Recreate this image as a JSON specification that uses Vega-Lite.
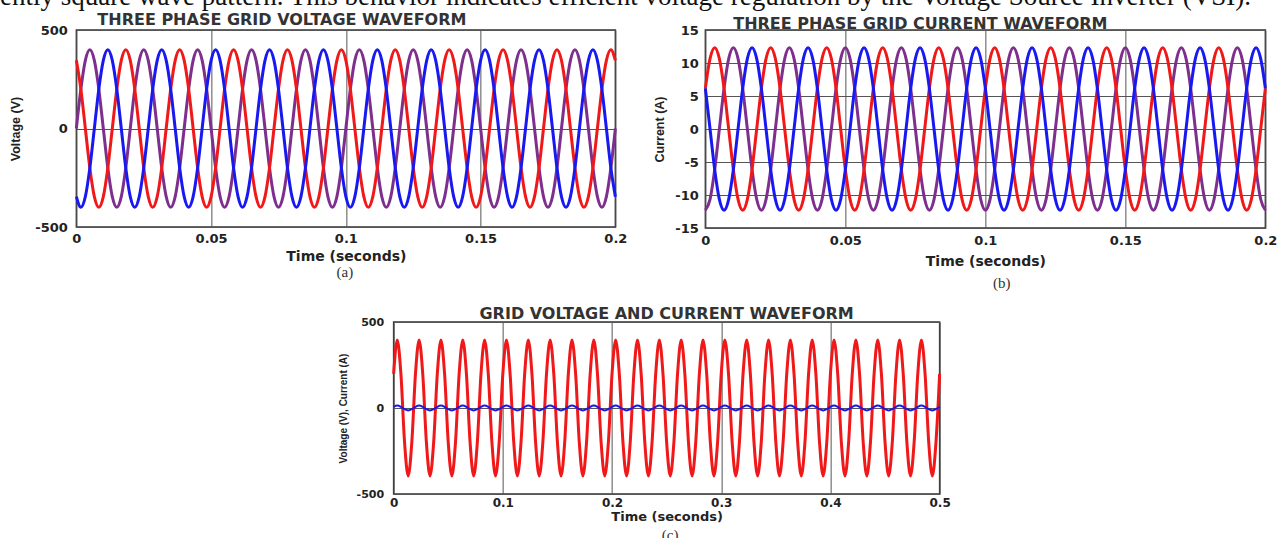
{
"$schema": "https://vega.github.io/schema/vega-lite/v6.json",
"background": "white",
"padding": {"left": 0, "top": -17, "right": 0, "bottom": 0},
"title": {"text": "ently square wave pattern. This behavior indicates efficient voltage regulation by the Voltage Source Inverter (VSI).", "anchor": "start", "font": "Liberation Serif", "fontSize": 27, "fontWeight": "normal", "color": "#111", "baseline": "alphabetic", "offset": -21, "dx": -9},
"config": {
  "view": {"stroke": "#333", "strokeWidth": 1.5},
  "axis": {"domain": false, "ticks": false, "labelFlush": false, "labelOverlap": false, "labelFont": "DejaVu Sans", "labelFontWeight": "bold", "labelFontSize": 13, "labelColor": "#222", "titleFont": "DejaVu Sans", "titleFontWeight": "bold", "titleColor": "#222", "gridColor": "#555", "gridOpacity": 1, "gridWidth": 1},
  "title": {"font": "DejaVu Sans", "fontWeight": "bold", "fontSize": 16, "color": "#333"}
},
"datasets": {
"ab": [
{"t":0,"vr":346,"vb":-346,"vp":0,"ir":6.15,"ip":-12.3,"ib":6.15},
{"t":0.00167,"vr":200,"vb":-400,"vp":200,"ir":10.65,"ip":-10.65,"ib":0},
{"t":0.00333,"vr":0,"vb":-346,"vp":346,"ir":12.3,"ip":-6.15,"ib":-6.15},
{"t":0.005,"vr":-200,"vb":-200,"vp":400,"ir":10.65,"ip":0,"ib":-10.65},
{"t":0.00667,"vr":-346,"vb":0,"vp":346,"ir":6.15,"ip":6.15,"ib":-12.3},
{"t":0.00833,"vr":-400,"vb":200,"vp":200,"ir":0,"ip":10.65,"ib":-10.65},
{"t":0.01,"vr":-346,"vb":346,"vp":0,"ir":-6.15,"ip":12.3,"ib":-6.15},
{"t":0.01167,"vr":-200,"vb":400,"vp":-200,"ir":-10.65,"ip":10.65,"ib":0},
{"t":0.01333,"vr":0,"vb":346,"vp":-346,"ir":-12.3,"ip":6.15,"ib":6.15},
{"t":0.015,"vr":200,"vb":200,"vp":-400,"ir":-10.65,"ip":0,"ib":10.65},
{"t":0.01667,"vr":346,"vb":0,"vp":-346,"ir":-6.15,"ip":-6.15,"ib":12.3},
{"t":0.01833,"vr":400,"vb":-200,"vp":-200,"ir":0,"ip":-10.65,"ib":10.65},
{"t":0.02,"vr":346,"vb":-346,"vp":0,"ir":6.15,"ip":-12.3,"ib":6.15},
{"t":0.02167,"vr":200,"vb":-400,"vp":200,"ir":10.65,"ip":-10.65,"ib":0},
{"t":0.02333,"vr":0,"vb":-346,"vp":346,"ir":12.3,"ip":-6.15,"ib":-6.15},
{"t":0.025,"vr":-200,"vb":-200,"vp":400,"ir":10.65,"ip":0,"ib":-10.65},
{"t":0.02667,"vr":-346,"vb":0,"vp":346,"ir":6.15,"ip":6.15,"ib":-12.3},
{"t":0.02833,"vr":-400,"vb":200,"vp":200,"ir":0,"ip":10.65,"ib":-10.65},
{"t":0.03,"vr":-346,"vb":346,"vp":0,"ir":-6.15,"ip":12.3,"ib":-6.15},
{"t":0.03167,"vr":-200,"vb":400,"vp":-200,"ir":-10.65,"ip":10.65,"ib":0},
{"t":0.03333,"vr":0,"vb":346,"vp":-346,"ir":-12.3,"ip":6.15,"ib":6.15},
{"t":0.035,"vr":200,"vb":200,"vp":-400,"ir":-10.65,"ip":0,"ib":10.65},
{"t":0.03667,"vr":346,"vb":0,"vp":-346,"ir":-6.15,"ip":-6.15,"ib":12.3},
{"t":0.03833,"vr":400,"vb":-200,"vp":-200,"ir":0,"ip":-10.65,"ib":10.65},
{"t":0.04,"vr":346,"vb":-346,"vp":0,"ir":6.15,"ip":-12.3,"ib":6.15},
{"t":0.04167,"vr":200,"vb":-400,"vp":200,"ir":10.65,"ip":-10.65,"ib":0},
{"t":0.04333,"vr":0,"vb":-346,"vp":346,"ir":12.3,"ip":-6.15,"ib":-6.15},
{"t":0.045,"vr":-200,"vb":-200,"vp":400,"ir":10.65,"ip":0,"ib":-10.65},
{"t":0.04667,"vr":-346,"vb":0,"vp":346,"ir":6.15,"ip":6.15,"ib":-12.3},
{"t":0.04833,"vr":-400,"vb":200,"vp":200,"ir":0,"ip":10.65,"ib":-10.65},
{"t":0.05,"vr":-346,"vb":346,"vp":0,"ir":-6.15,"ip":12.3,"ib":-6.15},
{"t":0.05167,"vr":-200,"vb":400,"vp":-200,"ir":-10.65,"ip":10.65,"ib":0},
{"t":0.05333,"vr":0,"vb":346,"vp":-346,"ir":-12.3,"ip":6.15,"ib":6.15},
{"t":0.055,"vr":200,"vb":200,"vp":-400,"ir":-10.65,"ip":0,"ib":10.65},
{"t":0.05667,"vr":346,"vb":0,"vp":-346,"ir":-6.15,"ip":-6.15,"ib":12.3},
{"t":0.05833,"vr":400,"vb":-200,"vp":-200,"ir":0,"ip":-10.65,"ib":10.65},
{"t":0.06,"vr":346,"vb":-346,"vp":0,"ir":6.15,"ip":-12.3,"ib":6.15},
{"t":0.06167,"vr":200,"vb":-400,"vp":200,"ir":10.65,"ip":-10.65,"ib":0},
{"t":0.06333,"vr":0,"vb":-346,"vp":346,"ir":12.3,"ip":-6.15,"ib":-6.15},
{"t":0.065,"vr":-200,"vb":-200,"vp":400,"ir":10.65,"ip":0,"ib":-10.65},
{"t":0.06667,"vr":-346,"vb":0,"vp":346,"ir":6.15,"ip":6.15,"ib":-12.3},
{"t":0.06833,"vr":-400,"vb":200,"vp":200,"ir":0,"ip":10.65,"ib":-10.65},
{"t":0.07,"vr":-346,"vb":346,"vp":0,"ir":-6.15,"ip":12.3,"ib":-6.15},
{"t":0.07167,"vr":-200,"vb":400,"vp":-200,"ir":-10.65,"ip":10.65,"ib":0},
{"t":0.07333,"vr":0,"vb":346,"vp":-346,"ir":-12.3,"ip":6.15,"ib":6.15},
{"t":0.075,"vr":200,"vb":200,"vp":-400,"ir":-10.65,"ip":0,"ib":10.65},
{"t":0.07667,"vr":346,"vb":0,"vp":-346,"ir":-6.15,"ip":-6.15,"ib":12.3},
{"t":0.07833,"vr":400,"vb":-200,"vp":-200,"ir":0,"ip":-10.65,"ib":10.65},
{"t":0.08,"vr":346,"vb":-346,"vp":0,"ir":6.15,"ip":-12.3,"ib":6.15},
{"t":0.08167,"vr":200,"vb":-400,"vp":200,"ir":10.65,"ip":-10.65,"ib":0},
{"t":0.08333,"vr":0,"vb":-346,"vp":346,"ir":12.3,"ip":-6.15,"ib":-6.15},
{"t":0.085,"vr":-200,"vb":-200,"vp":400,"ir":10.65,"ip":0,"ib":-10.65},
{"t":0.08667,"vr":-346,"vb":0,"vp":346,"ir":6.15,"ip":6.15,"ib":-12.3},
{"t":0.08833,"vr":-400,"vb":200,"vp":200,"ir":0,"ip":10.65,"ib":-10.65},
{"t":0.09,"vr":-346,"vb":346,"vp":0,"ir":-6.15,"ip":12.3,"ib":-6.15},
{"t":0.09167,"vr":-200,"vb":400,"vp":-200,"ir":-10.65,"ip":10.65,"ib":0},
{"t":0.09333,"vr":0,"vb":346,"vp":-346,"ir":-12.3,"ip":6.15,"ib":6.15},
{"t":0.095,"vr":200,"vb":200,"vp":-400,"ir":-10.65,"ip":0,"ib":10.65},
{"t":0.09667,"vr":346,"vb":0,"vp":-346,"ir":-6.15,"ip":-6.15,"ib":12.3},
{"t":0.09833,"vr":400,"vb":-200,"vp":-200,"ir":0,"ip":-10.65,"ib":10.65},
{"t":0.1,"vr":346,"vb":-346,"vp":0,"ir":6.15,"ip":-12.3,"ib":6.15},
{"t":0.10167,"vr":200,"vb":-400,"vp":200,"ir":10.65,"ip":-10.65,"ib":0},
{"t":0.10333,"vr":0,"vb":-346,"vp":346,"ir":12.3,"ip":-6.15,"ib":-6.15},
{"t":0.105,"vr":-200,"vb":-200,"vp":400,"ir":10.65,"ip":0,"ib":-10.65},
{"t":0.10667,"vr":-346,"vb":0,"vp":346,"ir":6.15,"ip":6.15,"ib":-12.3},
{"t":0.10833,"vr":-400,"vb":200,"vp":200,"ir":0,"ip":10.65,"ib":-10.65},
{"t":0.11,"vr":-346,"vb":346,"vp":0,"ir":-6.15,"ip":12.3,"ib":-6.15},
{"t":0.11167,"vr":-200,"vb":400,"vp":-200,"ir":-10.65,"ip":10.65,"ib":0},
{"t":0.11333,"vr":0,"vb":346,"vp":-346,"ir":-12.3,"ip":6.15,"ib":6.15},
{"t":0.115,"vr":200,"vb":200,"vp":-400,"ir":-10.65,"ip":0,"ib":10.65},
{"t":0.11667,"vr":346,"vb":0,"vp":-346,"ir":-6.15,"ip":-6.15,"ib":12.3},
{"t":0.11833,"vr":400,"vb":-200,"vp":-200,"ir":0,"ip":-10.65,"ib":10.65},
{"t":0.12,"vr":346,"vb":-346,"vp":0,"ir":6.15,"ip":-12.3,"ib":6.15},
{"t":0.12167,"vr":200,"vb":-400,"vp":200,"ir":10.65,"ip":-10.65,"ib":0},
{"t":0.12333,"vr":0,"vb":-346,"vp":346,"ir":12.3,"ip":-6.15,"ib":-6.15},
{"t":0.125,"vr":-200,"vb":-200,"vp":400,"ir":10.65,"ip":0,"ib":-10.65},
{"t":0.12667,"vr":-346,"vb":0,"vp":346,"ir":6.15,"ip":6.15,"ib":-12.3},
{"t":0.12833,"vr":-400,"vb":200,"vp":200,"ir":0,"ip":10.65,"ib":-10.65},
{"t":0.13,"vr":-346,"vb":346,"vp":0,"ir":-6.15,"ip":12.3,"ib":-6.15},
{"t":0.13167,"vr":-200,"vb":400,"vp":-200,"ir":-10.65,"ip":10.65,"ib":0},
{"t":0.13333,"vr":0,"vb":346,"vp":-346,"ir":-12.3,"ip":6.15,"ib":6.15},
{"t":0.135,"vr":200,"vb":200,"vp":-400,"ir":-10.65,"ip":0,"ib":10.65},
{"t":0.13667,"vr":346,"vb":0,"vp":-346,"ir":-6.15,"ip":-6.15,"ib":12.3},
{"t":0.13833,"vr":400,"vb":-200,"vp":-200,"ir":0,"ip":-10.65,"ib":10.65},
{"t":0.14,"vr":346,"vb":-346,"vp":0,"ir":6.15,"ip":-12.3,"ib":6.15},
{"t":0.14167,"vr":200,"vb":-400,"vp":200,"ir":10.65,"ip":-10.65,"ib":0},
{"t":0.14333,"vr":0,"vb":-346,"vp":346,"ir":12.3,"ip":-6.15,"ib":-6.15},
{"t":0.145,"vr":-200,"vb":-200,"vp":400,"ir":10.65,"ip":0,"ib":-10.65},
{"t":0.14667,"vr":-346,"vb":0,"vp":346,"ir":6.15,"ip":6.15,"ib":-12.3},
{"t":0.14833,"vr":-400,"vb":200,"vp":200,"ir":0,"ip":10.65,"ib":-10.65},
{"t":0.15,"vr":-346,"vb":346,"vp":0,"ir":-6.15,"ip":12.3,"ib":-6.15},
{"t":0.15167,"vr":-200,"vb":400,"vp":-200,"ir":-10.65,"ip":10.65,"ib":0},
{"t":0.15333,"vr":0,"vb":346,"vp":-346,"ir":-12.3,"ip":6.15,"ib":6.15},
{"t":0.155,"vr":200,"vb":200,"vp":-400,"ir":-10.65,"ip":0,"ib":10.65},
{"t":0.15667,"vr":346,"vb":0,"vp":-346,"ir":-6.15,"ip":-6.15,"ib":12.3},
{"t":0.15833,"vr":400,"vb":-200,"vp":-200,"ir":0,"ip":-10.65,"ib":10.65},
{"t":0.16,"vr":346,"vb":-346,"vp":0,"ir":6.15,"ip":-12.3,"ib":6.15},
{"t":0.16167,"vr":200,"vb":-400,"vp":200,"ir":10.65,"ip":-10.65,"ib":0},
{"t":0.16333,"vr":0,"vb":-346,"vp":346,"ir":12.3,"ip":-6.15,"ib":-6.15},
{"t":0.165,"vr":-200,"vb":-200,"vp":400,"ir":10.65,"ip":0,"ib":-10.65},
{"t":0.16667,"vr":-346,"vb":0,"vp":346,"ir":6.15,"ip":6.15,"ib":-12.3},
{"t":0.16833,"vr":-400,"vb":200,"vp":200,"ir":0,"ip":10.65,"ib":-10.65},
{"t":0.17,"vr":-346,"vb":346,"vp":0,"ir":-6.15,"ip":12.3,"ib":-6.15},
{"t":0.17167,"vr":-200,"vb":400,"vp":-200,"ir":-10.65,"ip":10.65,"ib":0},
{"t":0.17333,"vr":0,"vb":346,"vp":-346,"ir":-12.3,"ip":6.15,"ib":6.15},
{"t":0.175,"vr":200,"vb":200,"vp":-400,"ir":-10.65,"ip":0,"ib":10.65},
{"t":0.17667,"vr":346,"vb":0,"vp":-346,"ir":-6.15,"ip":-6.15,"ib":12.3},
{"t":0.17833,"vr":400,"vb":-200,"vp":-200,"ir":0,"ip":-10.65,"ib":10.65},
{"t":0.18,"vr":346,"vb":-346,"vp":0,"ir":6.15,"ip":-12.3,"ib":6.15},
{"t":0.18167,"vr":200,"vb":-400,"vp":200,"ir":10.65,"ip":-10.65,"ib":0},
{"t":0.18333,"vr":0,"vb":-346,"vp":346,"ir":12.3,"ip":-6.15,"ib":-6.15},
{"t":0.185,"vr":-200,"vb":-200,"vp":400,"ir":10.65,"ip":0,"ib":-10.65},
{"t":0.18667,"vr":-346,"vb":0,"vp":346,"ir":6.15,"ip":6.15,"ib":-12.3},
{"t":0.18833,"vr":-400,"vb":200,"vp":200,"ir":0,"ip":10.65,"ib":-10.65},
{"t":0.19,"vr":-346,"vb":346,"vp":0,"ir":-6.15,"ip":12.3,"ib":-6.15},
{"t":0.19167,"vr":-200,"vb":400,"vp":-200,"ir":-10.65,"ip":10.65,"ib":0},
{"t":0.19333,"vr":0,"vb":346,"vp":-346,"ir":-12.3,"ip":6.15,"ib":6.15},
{"t":0.195,"vr":200,"vb":200,"vp":-400,"ir":-10.65,"ip":0,"ib":10.65},
{"t":0.19667,"vr":346,"vb":0,"vp":-346,"ir":-6.15,"ip":-6.15,"ib":12.3},
{"t":0.19833,"vr":400,"vb":-200,"vp":-200,"ir":0,"ip":-10.65,"ib":10.65},
{"t":0.2,"vr":346,"vb":-346,"vp":0,"ir":6.15,"ip":-12.3,"ib":6.15}
],
"c": [
{"t":0,"v":198,"i":7},{"t":0.00333,"v":395,"i":14},{"t":0.00667,"v":198,"i":7},{"t":0.01,"v":-198,"i":-7},{"t":0.01333,"v":-395,"i":-14},{"t":0.01667,"v":-198,"i":-7},
{"t":0.02,"v":198,"i":7},{"t":0.02333,"v":395,"i":14},{"t":0.02667,"v":198,"i":7},{"t":0.03,"v":-198,"i":-7},{"t":0.03333,"v":-395,"i":-14},{"t":0.03667,"v":-198,"i":-7},
{"t":0.04,"v":198,"i":7},{"t":0.04333,"v":395,"i":14},{"t":0.04667,"v":198,"i":7},{"t":0.05,"v":-198,"i":-7},{"t":0.05333,"v":-395,"i":-14},{"t":0.05667,"v":-198,"i":-7},
{"t":0.06,"v":198,"i":7},{"t":0.06333,"v":395,"i":14},{"t":0.06667,"v":198,"i":7},{"t":0.07,"v":-198,"i":-7},{"t":0.07333,"v":-395,"i":-14},{"t":0.07667,"v":-198,"i":-7},
{"t":0.08,"v":198,"i":7},{"t":0.08333,"v":395,"i":14},{"t":0.08667,"v":198,"i":7},{"t":0.09,"v":-198,"i":-7},{"t":0.09333,"v":-395,"i":-14},{"t":0.09667,"v":-198,"i":-7},
{"t":0.1,"v":198,"i":7},{"t":0.10333,"v":395,"i":14},{"t":0.10667,"v":198,"i":7},{"t":0.11,"v":-198,"i":-7},{"t":0.11333,"v":-395,"i":-14},{"t":0.11667,"v":-198,"i":-7},
{"t":0.12,"v":198,"i":7},{"t":0.12333,"v":395,"i":14},{"t":0.12667,"v":198,"i":7},{"t":0.13,"v":-198,"i":-7},{"t":0.13333,"v":-395,"i":-14},{"t":0.13667,"v":-198,"i":-7},
{"t":0.14,"v":198,"i":7},{"t":0.14333,"v":395,"i":14},{"t":0.14667,"v":198,"i":7},{"t":0.15,"v":-198,"i":-7},{"t":0.15333,"v":-395,"i":-14},{"t":0.15667,"v":-198,"i":-7},
{"t":0.16,"v":198,"i":7},{"t":0.16333,"v":395,"i":14},{"t":0.16667,"v":198,"i":7},{"t":0.17,"v":-198,"i":-7},{"t":0.17333,"v":-395,"i":-14},{"t":0.17667,"v":-198,"i":-7},
{"t":0.18,"v":198,"i":7},{"t":0.18333,"v":395,"i":14},{"t":0.18667,"v":198,"i":7},{"t":0.19,"v":-198,"i":-7},{"t":0.19333,"v":-395,"i":-14},{"t":0.19667,"v":-198,"i":-7},
{"t":0.2,"v":198,"i":7},{"t":0.20333,"v":395,"i":14},{"t":0.20667,"v":198,"i":7},{"t":0.21,"v":-198,"i":-7},{"t":0.21333,"v":-395,"i":-14},{"t":0.21667,"v":-198,"i":-7},
{"t":0.22,"v":198,"i":7},{"t":0.22333,"v":395,"i":14},{"t":0.22667,"v":198,"i":7},{"t":0.23,"v":-198,"i":-7},{"t":0.23333,"v":-395,"i":-14},{"t":0.23667,"v":-198,"i":-7},
{"t":0.24,"v":198,"i":7},{"t":0.24333,"v":395,"i":14},{"t":0.24667,"v":198,"i":7},{"t":0.25,"v":-198,"i":-7},{"t":0.25333,"v":-395,"i":-14},{"t":0.25667,"v":-198,"i":-7},
{"t":0.26,"v":198,"i":7},{"t":0.26333,"v":395,"i":14},{"t":0.26667,"v":198,"i":7},{"t":0.27,"v":-198,"i":-7},{"t":0.27333,"v":-395,"i":-14},{"t":0.27667,"v":-198,"i":-7},
{"t":0.28,"v":198,"i":7},{"t":0.28333,"v":395,"i":14},{"t":0.28667,"v":198,"i":7},{"t":0.29,"v":-198,"i":-7},{"t":0.29333,"v":-395,"i":-14},{"t":0.29667,"v":-198,"i":-7},
{"t":0.3,"v":198,"i":7},{"t":0.30333,"v":395,"i":14},{"t":0.30667,"v":198,"i":7},{"t":0.31,"v":-198,"i":-7},{"t":0.31333,"v":-395,"i":-14},{"t":0.31667,"v":-198,"i":-7},
{"t":0.32,"v":198,"i":7},{"t":0.32333,"v":395,"i":14},{"t":0.32667,"v":198,"i":7},{"t":0.33,"v":-198,"i":-7},{"t":0.33333,"v":-395,"i":-14},{"t":0.33667,"v":-198,"i":-7},
{"t":0.34,"v":198,"i":7},{"t":0.34333,"v":395,"i":14},{"t":0.34667,"v":198,"i":7},{"t":0.35,"v":-198,"i":-7},{"t":0.35333,"v":-395,"i":-14},{"t":0.35667,"v":-198,"i":-7},
{"t":0.36,"v":198,"i":7},{"t":0.36333,"v":395,"i":14},{"t":0.36667,"v":198,"i":7},{"t":0.37,"v":-198,"i":-7},{"t":0.37333,"v":-395,"i":-14},{"t":0.37667,"v":-198,"i":-7},
{"t":0.38,"v":198,"i":7},{"t":0.38333,"v":395,"i":14},{"t":0.38667,"v":198,"i":7},{"t":0.39,"v":-198,"i":-7},{"t":0.39333,"v":-395,"i":-14},{"t":0.39667,"v":-198,"i":-7},
{"t":0.4,"v":198,"i":7},{"t":0.40333,"v":395,"i":14},{"t":0.40667,"v":198,"i":7},{"t":0.41,"v":-198,"i":-7},{"t":0.41333,"v":-395,"i":-14},{"t":0.41667,"v":-198,"i":-7},
{"t":0.42,"v":198,"i":7},{"t":0.42333,"v":395,"i":14},{"t":0.42667,"v":198,"i":7},{"t":0.43,"v":-198,"i":-7},{"t":0.43333,"v":-395,"i":-14},{"t":0.43667,"v":-198,"i":-7},
{"t":0.44,"v":198,"i":7},{"t":0.44333,"v":395,"i":14},{"t":0.44667,"v":198,"i":7},{"t":0.45,"v":-198,"i":-7},{"t":0.45333,"v":-395,"i":-14},{"t":0.45667,"v":-198,"i":-7},
{"t":0.46,"v":198,"i":7},{"t":0.46333,"v":395,"i":14},{"t":0.46667,"v":198,"i":7},{"t":0.47,"v":-198,"i":-7},{"t":0.47333,"v":-395,"i":-14},{"t":0.47667,"v":-198,"i":-7},
{"t":0.48,"v":198,"i":7},{"t":0.48333,"v":395,"i":14},{"t":0.48667,"v":198,"i":7},{"t":0.49,"v":-198,"i":-7},{"t":0.49333,"v":-395,"i":-14},{"t":0.49667,"v":-198,"i":-7},
{"t":0.5,"v":198,"i":7}
]
},
"center": true,
"spacing": 14,
"vconcat": [
{
"spacing": 24,
"hconcat": [
{
"width": 539, "height": 197,
"title": {"text": "THREE PHASE GRID VOLTAGE WAVEFORM", "dx": -64, "offset": -4},
"data": {"name": "ab"},
"resolve": {"axis": {"x": "independent"}},
"layer": [
{"transform": [{"fold": ["vp", "vr", "vb"], "as": ["ph", "val"]}],
 "mark": {"type": "line", "interpolate": "monotone", "strokeWidth": 3},
 "encoding": {
  "x": {"field": "t", "type": "quantitative", "scale": {"domain": [0, 0.2], "nice": false, "zero": false},
        "axis": {"values": [0, 0.05, 0.1, 0.15, 0.2], "labelExpr": "'' + datum.value", "title": "Time (seconds)", "titleFontSize": 14, "labelPadding": 5, "titlePadding": 4}},
  "y": {"field": "val", "type": "quantitative", "title": "Voltage (V)", "scale": {"domain": [-500, 500], "nice": false},
        "axis": {"values": [-500, 0, 500], "labelExpr": "'' + datum.value", "titleFont": "Liberation Sans", "titleFontSize": 12.5, "labelPadding": 9, "titlePadding": 12}},
  "color": {"field": "ph", "type": "nominal", "legend": null,
            "scale": {"domain": ["vp", "vr", "vb", "ip", "ir", "ib", "v", "i"], "range": ["#7E2F8E", "#f01818", "#1818f0", "#7E2F8E", "#f01818", "#1818f0", "#f01818", "#1818e8"]}}
 }},
{"data": {"values": [{}]},
 "mark": {"type": "rule", "opacity": 0},
 "encoding": {"x": {"datum": 0, "type": "quantitative",
   "axis": {"orient": "bottom", "labels": false, "grid": false, "title": "(a)", "titleFont": "Liberation Serif", "titleFontWeight": "normal", "titleFontSize": 15, "titleColor": "#333", "titlePadding": 37, "titleX": 268}}}}
]
},
{
"width": 560, "height": 198,
"title": {"text": "THREE PHASE GRID CURRENT WAVEFORM", "dx": -65, "dy": 4, "offset": -4},
"data": {"name": "ab"},
"resolve": {"axis": {"x": "independent"}},
"layer": [
{"transform": [{"fold": ["ip", "ir", "ib"], "as": ["ph", "val"]}],
 "mark": {"type": "line", "interpolate": "monotone", "strokeWidth": 3},
 "encoding": {
  "x": {"field": "t", "type": "quantitative", "scale": {"domain": [0, 0.2], "nice": false, "zero": false},
        "axis": {"values": [0, 0.05, 0.1, 0.15, 0.2], "labelExpr": "'' + datum.value", "title": "Time (seconds)", "titleFontSize": 14, "labelPadding": 6, "titlePadding": 7}},
  "y": {"field": "val", "type": "quantitative", "title": "Current (A)", "scale": {"domain": [-15, 15], "nice": false},
        "axis": {"values": [-15, -10, -5, 0, 5, 10, 15], "labelExpr": "'' + datum.value", "titleFont": "Liberation Sans", "titleFontSize": 12.5, "labelPadding": 7, "titlePadding": 8}},
  "color": {"field": "ph", "type": "nominal", "legend": null,
            "scale": {"domain": ["vp", "vr", "vb", "ip", "ir", "ib", "v", "i"], "range": ["#7E2F8E", "#f01818", "#1818f0", "#7E2F8E", "#f01818", "#1818f0", "#f01818", "#1818e8"]}}
 }},
{"data": {"values": [{}]},
 "mark": {"type": "rule", "opacity": 0},
 "encoding": {"x": {"datum": 0, "type": "quantitative",
   "axis": {"orient": "bottom", "labels": false, "grid": false, "title": "(b)", "titleFont": "Liberation Serif", "titleFontWeight": "normal", "titleFontSize": 15, "titleColor": "#333", "titlePadding": 47, "titleX": 296}}}}
]
}
]
},
{
"width": 546, "height": 172,
"title": {"text": "GRID VOLTAGE AND CURRENT WAVEFORM", "offset": -6},
"data": {"name": "c"},
"resolve": {"axis": {"x": "independent", "y": "independent"}},
"layer": [
{"transform": [{"fold": ["v", "i"], "as": ["ph", "val"]}],
 "mark": {"type": "line", "interpolate": "monotone"},
 "encoding": {
  "x": {"field": "t", "type": "quantitative", "scale": {"domain": [0, 0.5], "nice": false, "zero": false},
        "axis": {"values": [0, 0.1, 0.2, 0.3, 0.4, 0.5], "labelExpr": "'' + datum.value", "title": "Time (seconds)", "titleFontSize": 13, "labelFontSize": 12, "labelPadding": 3, "titlePadding": 2}},
  "y": {"field": "val", "type": "quantitative", "title": "Voltage (V), Current (A)", "scale": {"domain": [-500, 500], "nice": false},
        "axis": {"values": [-500, 0, 500], "labelExpr": "'' + datum.value", "titleFont": "Liberation Sans", "titleFontSize": 10, "labelFontSize": 11, "labelPadding": 10, "titlePadding": 8}},
  "color": {"field": "ph", "type": "nominal", "legend": null,
            "scale": {"domain": ["vp", "vr", "vb", "ip", "ir", "ib", "v", "i"], "range": ["#7E2F8E", "#f01818", "#1818f0", "#7E2F8E", "#f01818", "#1818f0", "#f01818", "#1818e8"]}},
  "strokeWidth": {"field": "ph", "type": "nominal", "legend": null, "scale": {"domain": ["v", "i"], "range": [3, 2]}}
 }},
{"data": {"values": [{}]},
 "mark": {"type": "rule", "opacity": 0},
 "encoding": {
  "x": {"datum": 0, "type": "quantitative",
   "axis": {"orient": "bottom", "labels": false, "grid": false, "title": "(c)", "titleFont": "Liberation Serif", "titleFontWeight": "normal", "titleFontSize": 15, "titleColor": "#333", "titlePadding": 33, "titleX": 276}},
  "y": {"datum": 0, "type": "quantitative",
   "axis": {"orient": "right", "labels": false, "grid": false, "title": " ", "titleFontSize": 10, "titlePadding": 10}}}}
]
}
]
}
